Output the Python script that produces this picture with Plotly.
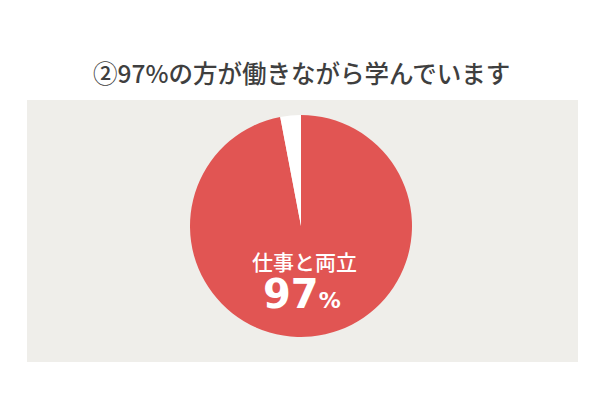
import plotly.graph_objects as go

categories = ["仕事と両立", "その他"]
values = [97, 3]
colors = ["#e15553", "#ffffff"]
title_text = "②97%の方が働きながら学んでいます"

W, H = 600, 400
cx, cy, r = 301, 226, 111

fig = go.Figure(go.Pie(
    labels=categories,
    values=values,
    sort=False,
    direction="clockwise",
    rotation=0,
    marker=dict(colors=colors, line=dict(color="#ffffff", width=0)),
    textinfo="none",
    hoverinfo="label+percent",
    showlegend=False,
    domain=dict(x=[(cx - r) / W, (cx + r) / W], y=[(H - cy - r) / H, (H - cy + r) / H]),
))

font = "Noto Sans CJK JP"
fig.update_layout(
    width=W, height=H,
    margin=dict(l=0, r=0, t=0, b=0),
    paper_bgcolor="#ffffff",
    shapes=[dict(type="rect", xref="paper", yref="paper",
                 x0=27 / W, x1=578 / W, y0=(H - 362) / H, y1=(H - 100) / H,
                 fillcolor="#efeeea", line=dict(width=0), layer="below")],
    annotations=[
        dict(text=title_text, x=0.502, y=(H - 72) / H, xref="paper", yref="paper",
             showarrow=False, font=dict(family=font, size=24.5, color="#3f3f3f", weight=500),
             xanchor="center", yanchor="middle"),
        dict(text=categories[0], x=304 / W, y=(H - 261) / H, xref="paper", yref="paper",
             showarrow=False, font=dict(family=font, size=21, color="#ffffff", weight=500),
             xanchor="center", yanchor="middle"),
        dict(text=f"{values[0]}<span style='font-size:22px'>%</span>",
             x=302 / W, y=(H - 294) / H, xref="paper", yref="paper",
             showarrow=False, font=dict(family="DejaVu Sans", size=40, color="#ffffff", weight="bold"),
             xanchor="center", yanchor="middle"),
    ],
)

fig.write_html("out.html", config={"displayModeBar": False},
               post_script="document.body.style.margin='0';")
